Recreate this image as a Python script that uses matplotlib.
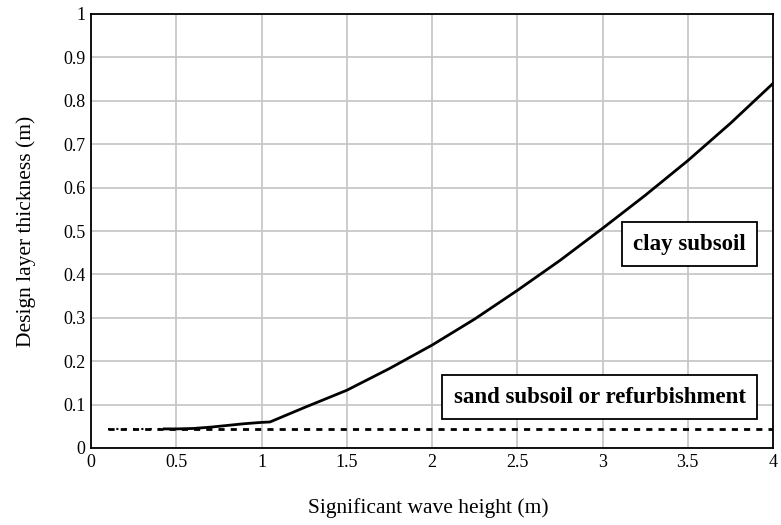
import matplotlib
matplotlib.use("Agg")
import matplotlib.pyplot as plt

# wave height (m) vs design layer thickness (m)
clay_h = [0.43, 0.5, 0.6, 0.7, 0.8, 0.9, 1.0, 1.05, 1.25, 1.5, 1.75, 2.0,
          2.25, 2.5, 2.75, 3.0, 3.25, 3.5, 3.75, 4.0]
clay_t = [0.044, 0.044, 0.045, 0.048, 0.052, 0.056, 0.059, 0.060, 0.093,
          0.133, 0.183, 0.237, 0.297, 0.363, 0.432, 0.506, 0.582, 0.662,
          0.748, 0.84]
lead_h = [0.1, 0.43]
lead_t = [0.044, 0.044]
sand_h = [0.1, 4.0]
sand_t = [0.044, 0.044]

x_ticks = [0, 0.5, 1, 1.5, 2, 2.5, 3, 3.5, 4]
x_labels = ["0", "0.5", "1", "1.5", "2", "2.5", "3", "3.5", "4"]
y_ticks = [0, 0.1, 0.2, 0.3, 0.4, 0.5, 0.6, 0.7, 0.8, 0.9, 1]
y_labels = ["0", "0.1", "0.2", "0.3", "0.4", "0.5", "0.6", "0.7", "0.8", "0.9", "1"]

serif = "Liberation Serif"

fig = plt.figure(figsize=(7.81, 5.25), dpi=100)
ax = fig.add_axes([91 / 781, 1 - 448 / 525, 682 / 781, 434 / 525])

ax.plot(sand_h, sand_t, color="black", lw=2, linestyle=(0, (2.2, 2.2)), zorder=3)
ax.plot(lead_h, lead_t, color="black", lw=1.5, linestyle=(0, (1, 3)), zorder=3)
ax.plot(clay_h, clay_t, color="black", lw=2, zorder=4)

ax.set_xlim(0, 4)
ax.set_ylim(0, 1)
ax.set_xticks(x_ticks)
ax.set_xticklabels(x_labels, fontfamily=serif, fontsize=13)
ax.set_yticks(y_ticks)
ax.set_yticklabels(y_labels, fontfamily=serif, fontsize=13)
ax.tick_params(length=0, pad=4)
ax.grid(True, color="#c8c8c8", lw=1.3)
ax.set_axisbelow(True)
for s in ax.spines.values():
    s.set_linewidth(1.3)

fig.text(428 / 781, 1 - 508 / 525, "Significant wave height (m)",
         ha="center", va="center", fontfamily=serif, fontsize=15.5)
fig.text(26 / 781, 1 - 231 / 525, "Design layer thickness (m)", rotation=90,
         ha="center", va="center", fontfamily=serif, fontsize=15.5)

box = dict(boxstyle="square,pad=0.5", fc="white", ec="black", lw=1.3)
ax.text(3.51, 0.47, "clay subsoil", ha="center", va="center",
        fontfamily=serif, fontweight="bold", fontsize=16.5, bbox=box, zorder=5)
ax.text(2.985, 0.117, "sand subsoil or refurbishment", ha="center", va="center",
        fontfamily=serif, fontweight="bold", fontsize=16.5, bbox=box, zorder=5)

fig.savefig("out.png", dpi=100)
